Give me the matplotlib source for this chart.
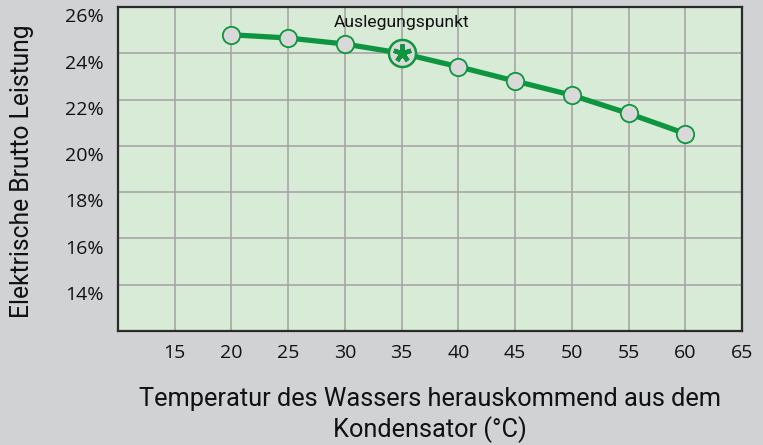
import numpy as np
import matplotlib
matplotlib.use("Agg")
import matplotlib.pyplot as plt
from matplotlib.transforms import ScaledTranslation

# values
temps    = [20, 25, 30, 35, 40, 45, 50, 55, 60]
leistung = [24.8, 24.66, 24.4, 24.0, 23.42, 22.8, 22.19, 21.4, 20.53]
design_t = 35
xticks   = [15, 20, 25, 30, 35, 40, 45, 50, 55, 60, 65]
yticks   = [14, 16, 18, 20, 22, 24, 26]

GREEN = "#0e953f"
BG    = "#d1d2d4"
PANEL = "#d8ebd7"
NARROW = ["Roboto", "DejaVu Sans"]

fig = plt.figure(figsize=(7.63, 4.45), dpi=100, facecolor=BG)
ax = fig.add_axes([118/763, 1 - 331/445, (742-118)/763, (331-7)/445])
ax.set_facecolor(PANEL)

ax.set_xlim(10, 65); ax.set_ylim(12, 26)
ax.set_xticks(xticks); ax.set_yticks(yticks)
ax.set_xticks(range(10, 66, 5), minor=True)
ax.set_yticks(range(12, 27, 2), minor=True)
ax.grid(True, which="both", color="#a6a6a6", lw=1.2)
ax.set_axisbelow(True)
ax.tick_params(which="both", length=0)
ax.set_yticklabels([f"{v}%" for v in yticks])
for lab in ax.get_xticklabels() + ax.get_yticklabels():
    lab.set_fontfamily("Open Sans"); lab.set_fontsize(14); lab.set_color("#111")
ax.tick_params(axis="x", pad=9)
ax.tick_params(axis="y", pad=10)
off = ScaledTranslation(0, -6/72, fig.dpi_scale_trans)
for lab in ax.get_yticklabels():
    lab.set_transform(lab.get_transform() + off)
for s in ax.spines.values():
    s.set_color("#2b2b2b"); s.set_linewidth(1.6)

# curve + markers
ax.plot(temps, leistung, color=GREEN, lw=3.8, zorder=3)
others = [i for i, t in enumerate(temps) if t != design_t]
ax.plot([temps[i] for i in others], [leistung[i] for i in others], "o",
        ms=12.5, mfc="#d9d9d9", mec=GREEN, mew=1.3, zorder=4)
k = temps.index(design_t)
ax.plot(temps[k], leistung[k], "o", ms=19.5, mfc="#d9d9d9", mec=GREEN, mew=1.8, zorder=4)
ax.plot(temps[k], leistung[k], marker=(5, 2, 0), ms=13, mec=GREEN, mew=3.2, zorder=5)
ax.text(temps[k], leistung[k] + 1.35, "Auslegungspunkt", ha="center", va="center",
        fontsize=12.6, family=NARROW, color="#111", zorder=6)

fig.text(22/763, 1 - 171/445, "Elektrische Brutto Leistung", rotation=90,
         ha="center", va="center", fontsize=17.7, family=NARROW, color="#111")
fig.text(430/763, 1 - 415/445, "Temperatur des Wassers herauskommend aus dem\nKondensator (°C)",
         ha="center", va="center", fontsize=18.3, family=NARROW, color="#111",
         linespacing=1.2)

fig.savefig("out.png", dpi=100, facecolor=BG)
